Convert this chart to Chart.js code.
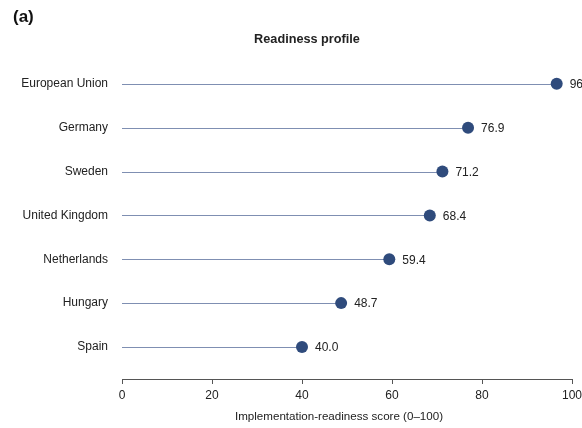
<!DOCTYPE html>
<html>
<head>
<meta charset="utf-8">
<script src="https://cdn.jsdelivr.net/npm/chart.js@4/dist/chart.umd.min.js"></script>
<style>
  html, body { margin: 0; padding: 0; background: #ffffff; }
  #wrap { width: 582px; height: 428px; }
</style>
</head>
<body>
<div id="wrap"><canvas id="c" width="582" height="428"></canvas></div>
<script>
// Readiness scores per jurisdiction, top to bottom
const categories = ['European Union', 'Germany', 'Sweden', 'United Kingdom', 'Netherlands', 'Hungary', 'Spain'];
const scores = [96.6, 76.9, 71.2, 68.4, 59.4, 48.7, 40.0];
const xTicks = [0, 20, 40, 60, 80, 100];

const FONT = "'Liberation Sans', Arial, Helvetica, sans-serif";
const DOT = '#2f4b7c';
const STEM = '#7f8fb2';
const INK = '#222222';
const AXIS = '#555555';

// Thin stems from zero to each score, drawn under the dots
const stemPlugin = {
  id: 'stems',
  beforeDatasetsDraw(chart) {
    const { ctx, scales: { x, y } } = chart;
    ctx.save();
    ctx.strokeStyle = STEM;
    ctx.lineWidth = 1;
    scores.forEach((v, i) => {
      const py = Math.round(y.getPixelForValue(i)) + 0.5;
      ctx.beginPath();
      ctx.moveTo(x.getPixelForValue(0), py);
      ctx.lineTo(x.getPixelForValue(v), py);
      ctx.stroke();
    });
    ctx.restore();
  }
};

// Score labels to the right of each dot, the panel letter, heading and axis caption
const labelPlugin = {
  id: 'valueLabels',
  afterDatasetsDraw(chart) {
    const { ctx, scales: { x, y } } = chart;
    ctx.save();
    ctx.fillStyle = INK;
    ctx.font = '12px ' + FONT;
    ctx.textAlign = 'left';
    ctx.textBaseline = 'middle';
    scores.forEach((v, i) => {
      ctx.fillText(v.toFixed(1), x.getPixelForValue(v) + 13, y.getPixelForValue(i) + 1);
    });
    ctx.font = 'bold 17px ' + FONT;
    ctx.fillStyle = '#111111';
    ctx.fillText('(a)', 13, 17);
    ctx.font = 'bold 12.7px ' + FONT;
    ctx.fillStyle = INK;
    ctx.textAlign = 'center';
    ctx.fillText('Readiness profile', 307, 39);
    ctx.font = '11.6px ' + FONT;
    ctx.fillText('Implementation-readiness score (0–100)', 339, 417);
    ctx.restore();
  }
};

new Chart(document.getElementById('c'), {
  type: 'scatter',
  data: {
    datasets: [{
      data: scores.map((v, i) => ({ x: v, y: i })),
      backgroundColor: DOT,
      borderColor: DOT,
      pointRadius: 6,
      pointHoverRadius: 6,
      borderWidth: 0
    }]
  },
  options: {
    responsive: false,
    animation: false,
    events: [],
    layout: { padding: { left: 0, right: 10, top: 61, bottom: 0 } },
    plugins: {
      legend: { display: false },
      tooltip: { enabled: false },
      title: { display: false }
    },
    scales: {
      x: {
        type: 'linear',
        min: 0,
        max: 100,
        afterBuildTicks(scale) { scale.ticks = xTicks.map(v => ({ value: v })); },
        afterFit(scale) { scale.height = 49; scale.paddingLeft = 0; scale.paddingRight = 0; },
        grid: { display: true, drawOnChartArea: false, drawTicks: true, tickLength: 5, color: AXIS },
        border: { display: true, color: AXIS, width: 1 },
        ticks: { color: INK, font: { family: FONT, size: 12 }, padding: 4, maxRotation: 0 },
        title: { display: false }
      },
      y: {
        type: 'linear',
        reverse: true,
        min: -0.52,
        max: 6.73,
        afterBuildTicks(scale) { scale.ticks = categories.map((_, i) => ({ value: i })); },
        afterFit(scale) { scale.width = 122; scale.paddingTop = 0; scale.paddingBottom = 0; },
        grid: { display: false, drawTicks: false },
        border: { display: false },
        ticks: {
          color: INK,
          font: { family: FONT, size: 12 },
          padding: 14,
          callback: (v) => categories[v]
        }
      }
    }
  },
  plugins: [stemPlugin, labelPlugin]
});
</script>
</body>
</html>
